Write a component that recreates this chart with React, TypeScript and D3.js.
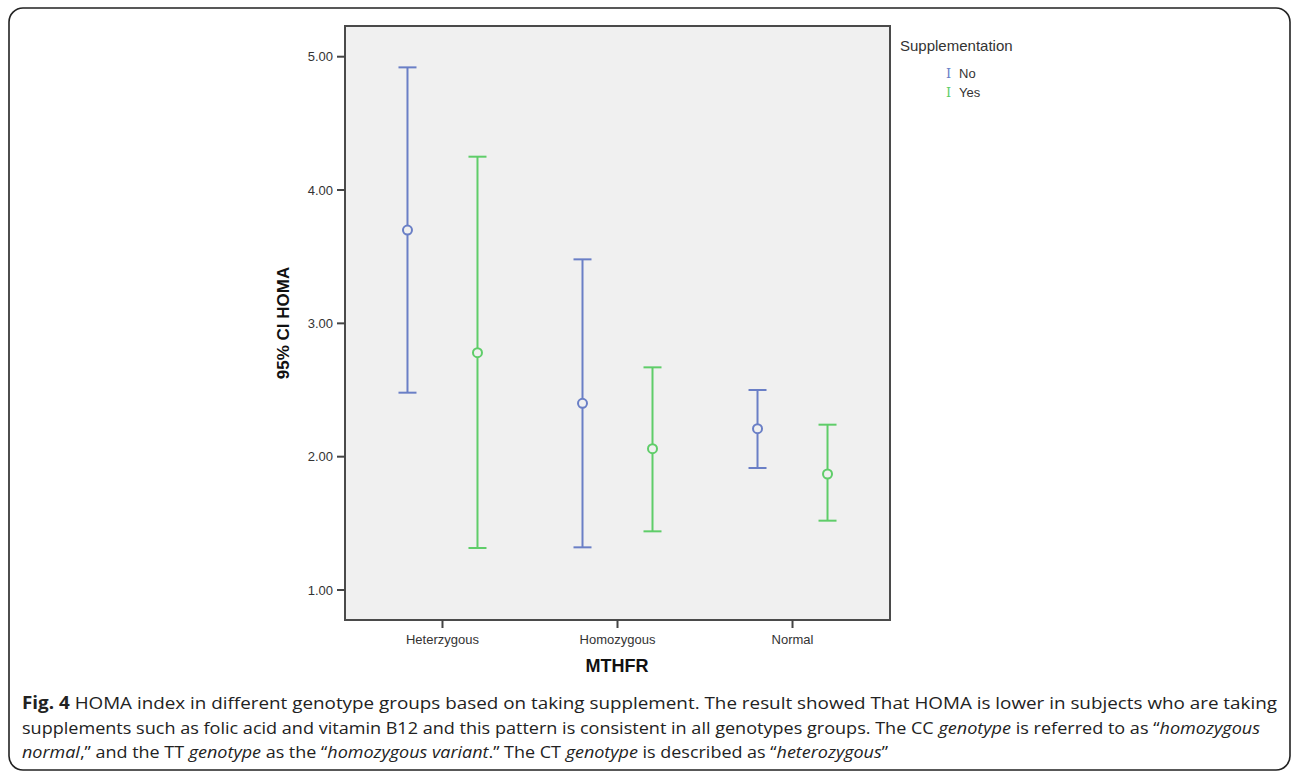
import React from "react";
import * as d3 from "d3";

const categories = ["Heterzygous", "Homozygous", "Normal"];
const groups = ["No", "Yes"];
// [lower, mean, upper] per category for each group
const noLower = [2.48, 1.32, 1.915];
const noMean = [3.70, 2.40, 2.21];
const noUpper = [4.92, 3.48, 2.50];
const yesLower = [1.315, 1.44, 1.52];
const yesMean = [2.78, 2.06, 1.87];
const yesUpper = [4.25, 2.67, 2.24];
const yTicks = [1, 2, 3, 4, 5];

const W = 1292, H = 772;
const plot = { left: 345, top: 26, right: 890, bottom: 620 };
const colors: Record<string, string> = { No: "#6a7fc6", Yes: "#5fcd69" };

export default function App() {
  const y = d3.scaleLinear().domain([1, 5]).range([590, 56.7]);
  const x = d3.scalePoint<string>().domain(categories).range([plot.left, plot.right]).padding(0.557);
  const off = d3.scalePoint<string>().domain(groups).range([-35, 35]);
  const series = [
    { g: "No", lo: noLower, m: noMean, hi: noUpper },
    { g: "Yes", lo: yesLower, m: yesMean, hi: yesUpper },
  ];
  const chartFont = "'Liberation Sans', Arial, sans-serif";
  const capFont = "'Open Sans', 'Noto Sans', sans-serif";
  return (
    <div style={{ position: "absolute", left: 0, top: 0 }}>
      <svg width={W} height={H} style={{ display: "block", background: "#fff" }}>
        <rect x={9} y={8} width={1281} height={762} rx={14} fill="none" stroke="#222" strokeWidth={1.6} />
        <rect x={plot.left} y={plot.top} width={plot.right - plot.left} height={plot.bottom - plot.top}
          fill="#f0f0f0" stroke="#4a4a4a" strokeWidth={2} />
        {yTicks.map((t) => (
          <g key={t}>
            <line x1={plot.left - 8} x2={plot.left} y1={y(t)} y2={y(t)} stroke="#444" strokeWidth={2} />
            <text x={plot.left - 12} y={y(t)} dy="0.35em" textAnchor="end" fontFamily={chartFont} fontSize={13} fill="#333">
              {d3.format(".2f")(t)}
            </text>
          </g>
        ))}
        {categories.map((c) => (
          <g key={c}>
            <line x1={x(c)} x2={x(c)} y1={plot.bottom} y2={plot.bottom + 8} stroke="#444" strokeWidth={2} />
            <text x={x(c)} y={639} dy="0.35em" textAnchor="middle" fontFamily={chartFont} fontSize={13} fill="#333">{c}</text>
          </g>
        ))}
        {series.map((s) =>
          categories.map((c, i) => {
            const cx = (x(c) as number) + (off(s.g) as number);
            const col = colors[s.g];
            return (
              <g key={s.g + c} stroke={col} strokeWidth={2} fill="none">
                <line x1={cx} x2={cx} y1={y(s.lo[i])} y2={y(s.hi[i])} />
                <line x1={cx - 9} x2={cx + 9} y1={y(s.hi[i])} y2={y(s.hi[i])} />
                <line x1={cx - 9} x2={cx + 9} y1={y(s.lo[i])} y2={y(s.lo[i])} />
                <circle cx={cx} cy={y(s.m[i])} r={4.5} fill="#f0f0f0" />
              </g>
            );
          })
        )}
        <text transform="translate(289,323) rotate(-90)" textAnchor="middle" fontFamily={chartFont} fontWeight="bold" fontSize={17} fill="#111">95% CI HOMA</text>
        <text x={617} y={672} textAnchor="middle" fontFamily={chartFont} fontWeight="bold" fontSize={18} fill="#111">MTHFR</text>
        <text x={900} y={51} fontFamily={chartFont} fontSize={15} fill="#333">Supplementation</text>
        {groups.map((g, i) => (
          <g key={g}>
            <text x={946} y={78 + i * 19} fontFamily="'DejaVu Serif', serif" fontSize={13} fill={colors[g]}>I</text>
            <text x={959} y={78 + i * 19} fontFamily={chartFont} fontSize={13} fill="#333">{g}</text>
          </g>
        ))}
        <text x={22} y={709} fontFamily={capFont} fontSize={17} fill="#222" textLength={1255} lengthAdjust="spacingAndGlyphs">
          <tspan fontWeight="bold">Fig. 4</tspan> HOMA index in different genotype groups based on taking supplement. The result showed That HOMA is lower in subjects who are taking
        </text>
        <text x={22} y={734} fontFamily={capFont} fontSize={17} fill="#222" textLength={1238} lengthAdjust="spacingAndGlyphs">
          supplements such as folic acid and vitamin B12 and this pattern is consistent in all genotypes groups. The CC <tspan fontStyle="italic">genotype</tspan> is referred to as “<tspan fontStyle="italic">homozygous</tspan>
        </text>
        <text x={22} y={758} fontFamily={capFont} fontSize={17} fill="#222" textLength={866} lengthAdjust="spacingAndGlyphs">
          <tspan fontStyle="italic">normal</tspan>,” and the TT <tspan fontStyle="italic">genotype</tspan> as the “<tspan fontStyle="italic">homozygous variant</tspan>.” The CT <tspan fontStyle="italic">genotype</tspan> is described as “<tspan fontStyle="italic">heterozygous</tspan>”
        </text>
      </svg>
    </div>
  );
}
